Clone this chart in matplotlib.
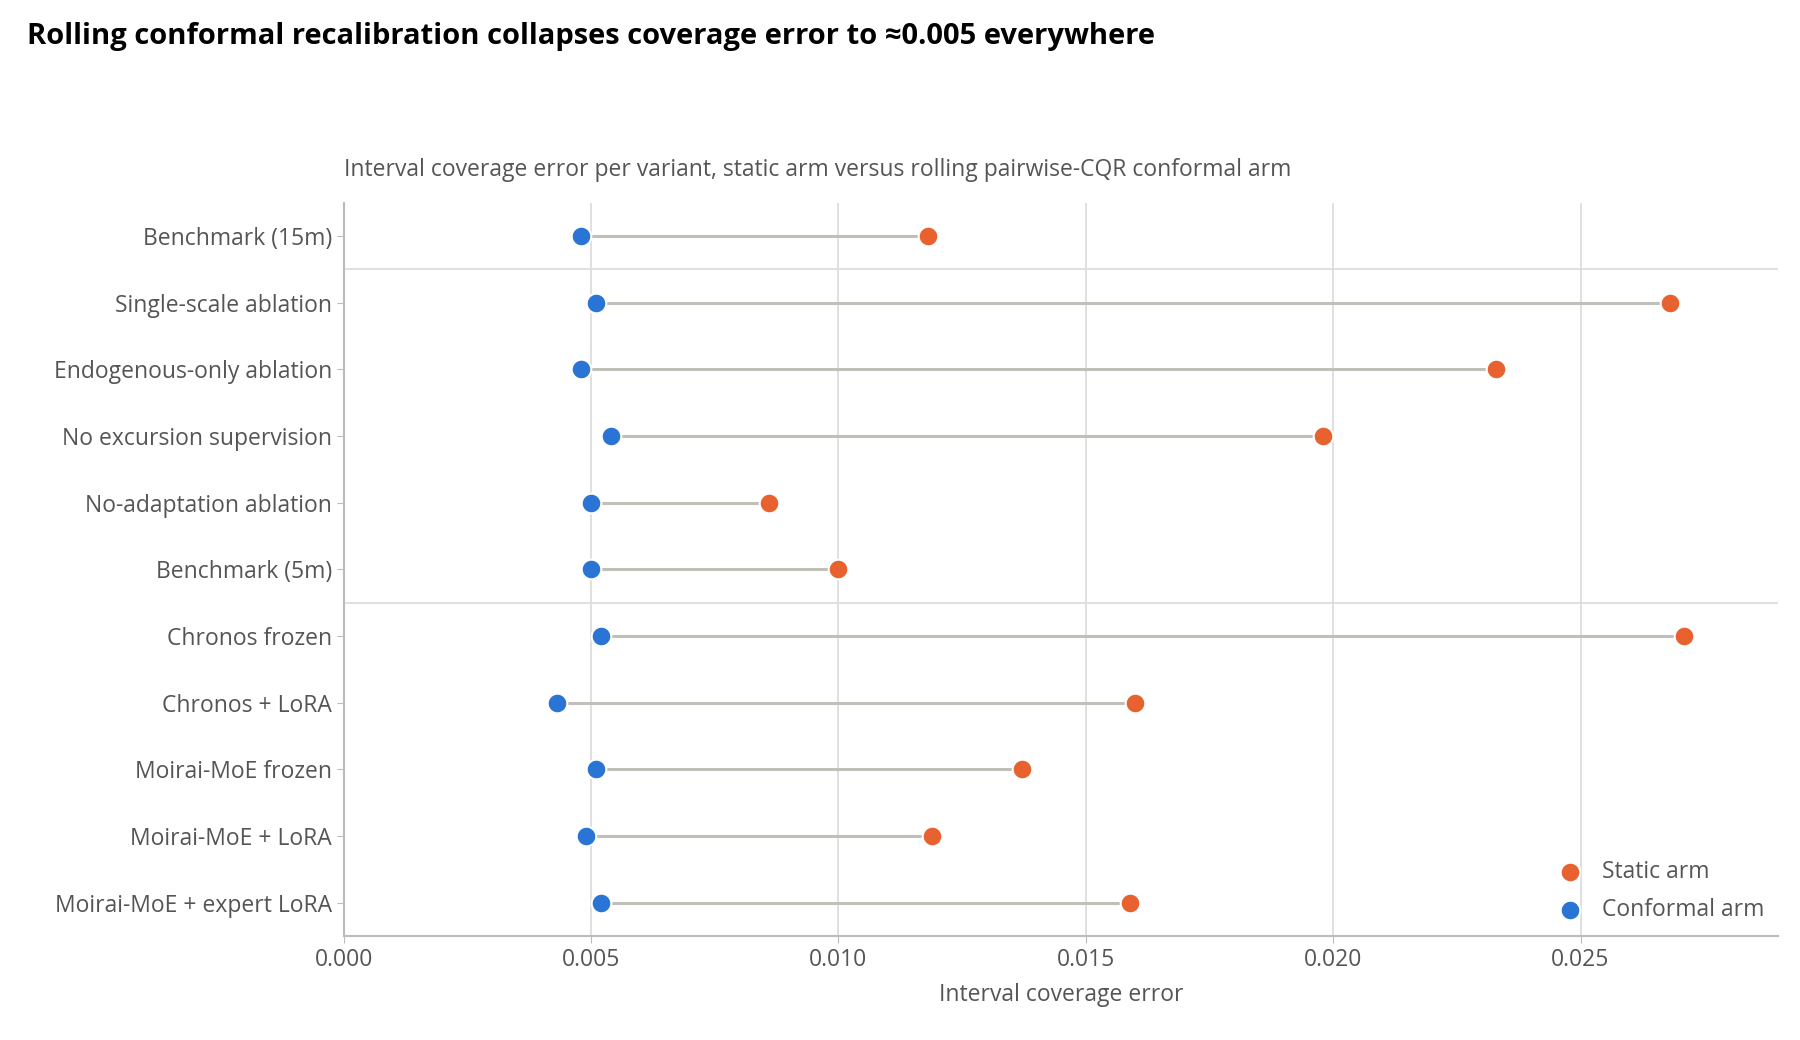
import matplotlib.pyplot as plt

plt.rcParams['font.family'] = ['Open Sans', 'DejaVu Sans']

variants = ['Benchmark (15m)', 'Single-scale ablation', 'Endogenous-only ablation',
            'No excursion supervision', 'No-adaptation ablation', 'Benchmark (5m)',
            'Chronos frozen', 'Chronos + LoRA', 'Moirai-MoE frozen',
            'Moirai-MoE + LoRA', 'Moirai-MoE + expert LoRA']
static_err = [0.0118, 0.0268, 0.0233, 0.0198, 0.0086, 0.0100,
              0.0271, 0.0160, 0.0137, 0.0119, 0.0159]
conformal_err = [0.0048, 0.0051, 0.0048, 0.0054, 0.0050, 0.0050,
                 0.0052, 0.0043, 0.0051, 0.0049, 0.0052]

ORANGE = '#e8622f'
BLUE = '#2a74d5'
GREY = '#555555'

fig = plt.figure(figsize=(18, 10.4), dpi=100)
ax = fig.add_axes([0.191, 0.1, 0.797, 0.705])

ys = list(range(len(variants)))
for y, s, c in zip(ys, static_err, conformal_err):
    ax.plot([c, s], [y, y], color='#c0c0b8', lw=2.2, zorder=1)
ax.scatter(static_err, ys, s=200, color=ORANGE, edgecolor='white', lw=1.5,
           zorder=3, label='Static arm')
ax.scatter(conformal_err, ys, s=200, color=BLUE, edgecolor='white', lw=1.5,
           zorder=3, label='Conformal arm')

for yb in (0.5, 5.5):
    ax.axhline(yb, color='#dddddd', lw=1.3, zorder=0)

ax.set_xlim(0, 0.029)
ax.set_ylim(len(variants) - 0.5, -0.5)
ax.set_yticks(ys)
ax.set_yticklabels(variants)
ax.set_xticks([0, 0.005, 0.010, 0.015, 0.020, 0.025])
ax.set_xticklabels(['0.000', '0.005', '0.010', '0.015', '0.020', '0.025'])
ax.grid(axis='x', color='#dddddd', lw=1.3, zorder=0)
ax.set_axisbelow(True)
ax.tick_params(labelsize=16.5, colors=GREY, length=5, color='#bbbbbb')
for sp in ('top', 'right'):
    ax.spines[sp].set_visible(False)
for sp in ('left', 'bottom'):
    ax.spines[sp].set_color('#bbbbbb')
    ax.spines[sp].set_linewidth(1.5)
ax.set_xlabel('Interval coverage error', fontsize=16.5, color=GREY, labelpad=8)

leg = ax.legend(loc='lower right', frameon=False, fontsize=16.5, handletextpad=0.4,
                borderaxespad=0.2, labelspacing=0.6)
for t in leg.get_texts():
    t.set_color(GREY)

fig.text(0.015, 0.965, 'Rolling conformal recalibration collapses coverage error to \u22480.005 everywhere',
         fontsize=21, fontweight='bold', ha='left', va='center')
ax.text(0, 1.045, 'Interval coverage error per variant, static arm versus rolling pairwise-CQR conformal arm',
        transform=ax.transAxes, fontsize=16.5, color=GREY, ha='left', va='center')

fig.savefig('out.png', dpi=100)
